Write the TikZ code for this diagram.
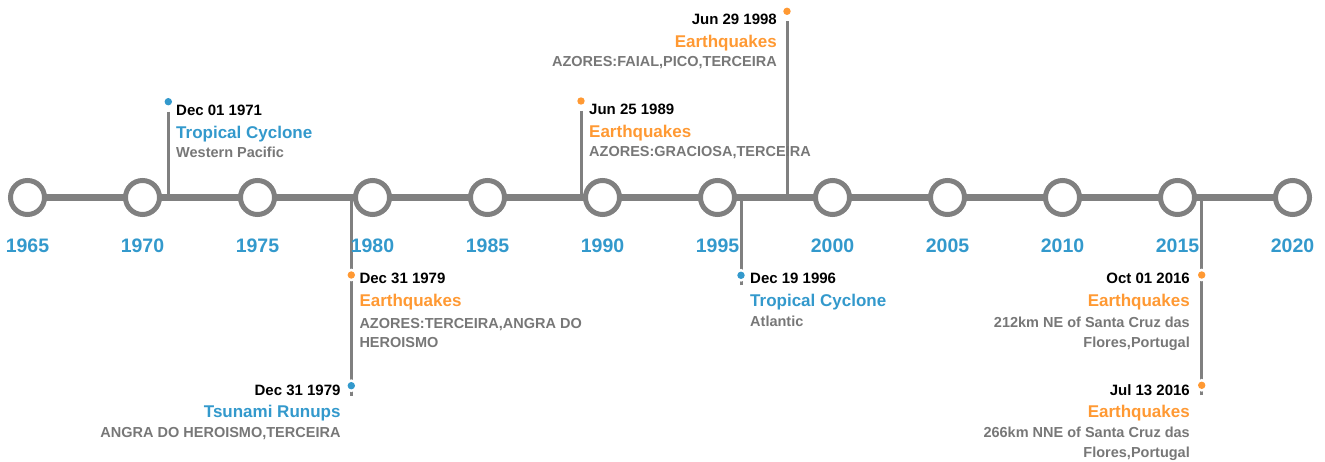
\documentclass[tikz,border=0pt]{standalone}
\usepackage{fontspec}
\setmainfont{Liberation Sans}
\usetikzlibrary{positioning,calc}

\definecolor{linegray}{HTML}{808080}
\definecolor{descgray}{HTML}{777777}
\definecolor{cycblue}{HTML}{3399CC}
\definecolor{quakeorange}{HTML}{FF9933}

\tikzset{
    yearring/.style={circle, draw=linegray, line width=5pt, fill=white, minimum size=34pt, inner sep=0pt},
    yearlabel/.style={anchor=base, inner sep=0pt, text=cycblue, font=\bfseries\fontsize{19.5}{22}\selectfont},
    stem/.style={draw=linegray, line width=3pt},
    dot/.style={circle, inner sep=0pt, minimum size=7.4pt, preaction={draw=white, line width=5pt}},
    datetxt/.style={inner sep=0pt, font=\bfseries\fontsize{15}{18}\selectfont},
    titletxt/.style={inner sep=0pt, font=\bfseries\fontsize{17}{20}\selectfont},
    desctxt/.style={inner sep=0pt, text=descgray, font=\bfseries\fontsize{14.5}{19.5}\selectfont},
}

\begin{document}
\begin{tikzpicture}[x=1pt, y=-1pt]

        \useasboundingbox (0,0) rectangle (1325,462);

        % Year positions on the axis
        \foreach \yr [count=\i from 0] in {1965,1970,...,2020}
            \coordinate (p\yr) at ({27.5+115*\i},197.5);

        % Event dots and stem ends
        \coordinate (s71) at (168.3,111.7);
        \coordinate (s89) at (581,111);
        \coordinate (s98) at (787,21.3);
        \coordinate (s79) at (351.3,395.7);
        \coordinate (s96) at (741,285.3);
        \coordinate (s16) at (1201.7,395.3);

        \path[stem] (s71) -- (s71 |- p1970);
        \path[stem] (s89) -- (s89 |- p1990);
        \path[stem] (s98) -- (s98 |- p2000);
        \path[stem] (s79) -- (s79 |- p1980);
        \path[stem] (s96) -- (s96 |- p1995);
        \path[stem] (s16) -- (s16 |- p2015);

        \path[draw, linegray, line width=7pt] (p1965) -- (p2020);

        \foreach \yr in {1965,1970,...,2020} {
            \node[yearring] (c\yr) at (p\yr) {};
            \node[yearlabel] (y\yr) at ($(p\yr)+(0,55)$) {\yr};
        }

        % Dots on top of the stems
        \node[dot, fill=cycblue] (d71) at (168.3,101.7) {};
        \node[dot, fill=quakeorange] (d89) at (581,101) {};
        \node[dot, fill=quakeorange] (d98) at (787,11.3) {};
        \node[dot, fill=quakeorange] (d79a) at (351.3,275) {};
        \node[dot, fill=cycblue] (d79b) at (351.3,385.7) {};
        \node[dot, fill=cycblue] (d96) at (741,275.3) {};
        \node[dot, fill=quakeorange] (d16a) at (1201.7,275) {};
        \node[dot, fill=quakeorange] (d16b) at (1201.7,385.3) {};

        % Dec 01 1971
        \node[datetxt, anchor=base west] (date71) at (176,116) {Dec 01 1971};
        \node[titletxt, anchor=base west, text=cycblue] (title71) at (176,138.7) {Tropical Cyclone};
        \node[desctxt, anchor=base west] (desc71) at (176,157.7) {Western Pacific};

        % Jun 25 1989
        \node[datetxt, anchor=base west] (date89) at (589,114.3) {Jun 25 1989};
        \node[titletxt, anchor=base west, text=quakeorange] (title89) at (589,137.7) {Earthquakes};
        \node[desctxt, anchor=base west] (desc89) at (589,156.7) {AZORES:GRACIOSA,TERCEIRA};

        % Jun 29 1998
        \node[datetxt, anchor=base east] (date98) at (777,25) {Jun 29 1998};
        \node[titletxt, anchor=base east, text=quakeorange] (title98) at (777,47.7) {Earthquakes};
        \node[desctxt, anchor=base east] (desc98) at (777,66.7) {AZORES:FAIAL,PICO,TERCEIRA};

        % Dec 31 1979 (earthquakes)
        \node[datetxt, anchor=base west] (date79a) at (359.3,284) {Dec 31 1979};
        \node[titletxt, anchor=base west, text=quakeorange] (title79a) at (359.3,306.7) {Earthquakes};
        \node[desctxt, anchor=base west, align=left] (desc79a) at (359.3,347.5) {AZORES:TERCEIRA,ANGRA DO\\HEROISMO};

        % Dec 31 1979 (tsunami)
        \node[datetxt, anchor=base east] (date79b) at (340.7,395) {Dec 31 1979};
        \node[titletxt, anchor=base east, text=cycblue] (title79b) at (340.7,417.7) {Tsunami Runups};
        \node[desctxt, anchor=base east] (desc79b) at (340.7,437.3) {ANGRA DO HEROISMO,TERCEIRA};

        % Dec 19 1996
        \node[datetxt, anchor=base west] (date96) at (750,283.3) {Dec 19 1996};
        \node[titletxt, anchor=base west, text=cycblue] (title96) at (750,306.7) {Tropical Cyclone};
        \node[desctxt, anchor=base west] (desc96) at (750,326.7) {Atlantic};

        % Oct 01 2016
        \node[datetxt, anchor=base east] (date16a) at (1190,284) {Oct 01 2016};
        \node[titletxt, anchor=base east, text=quakeorange] (title16a) at (1190,306.7) {Earthquakes};
        \node[desctxt, anchor=base east, align=right] (desc16a) at (1190,347.3) {212km NE of Santa Cruz das\\Flores,Portugal};

        % Jul 13 2016
        \node[datetxt, anchor=base east] (date16b) at (1190,395) {Jul 13 2016};
        \node[titletxt, anchor=base east, text=quakeorange] (title16b) at (1190,417.7) {Earthquakes};
        \node[desctxt, anchor=base east, align=right] (desc16b) at (1190,457) {266km NNE of Santa Cruz das\\Flores,Portugal};

    \end{tikzpicture}
\end{document}
